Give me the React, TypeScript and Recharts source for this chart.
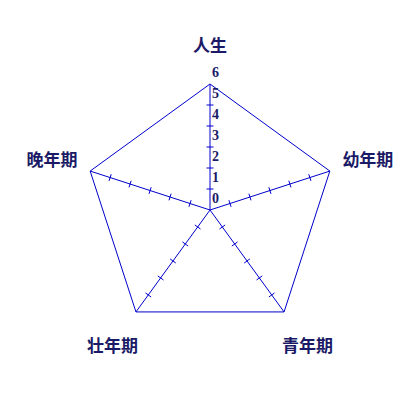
import React from "react";
import { RadarChart, Radar, PolarGrid, PolarAngleAxis, PolarRadiusAxis } from "recharts";

const categories = ["人生", "幼年期", "青年期", "壮年期", "晚年期"];
const values = [6, 6, 6, 6, 6];
const radiusTicks = [0, 1, 2, 3, 4, 5, 6];

const data = categories.map((name, i) => ({ name, value: values[i] }));

const LINE = "#0000cc";
const TEXT = "#1a1a66";
const ANGLES = categories.map((_, i) => 90 - (360 / categories.length) * i);

const AngleTick = (props: any) => {
  const { x, y, payload } = props;
  return (
    <text
      x={x}
      y={y}
      textAnchor="middle"
      dominantBaseline="central"
      fill={TEXT}
      fontFamily="'Noto Sans CJK SC', sans-serif"
      fontWeight="bold"
      fontSize={17}
    >
      {payload.value}
    </text>
  );
};

const RadiusTick = (props: any) => {
  const { x, y, payload } = props;
  const r = payload.coordinate;
  const cx = x;
  const cy = y + r;
  const v = payload.value;
  const showMark = v > 0 && v < 6;
  const h = 3.5;
  return (
    <g>
      {showMark &&
        ANGLES.map((a) => {
          const rad = (a * Math.PI) / 180;
          const px = cx + r * Math.cos(rad);
          const py = cy - r * Math.sin(rad);
          const nx = Math.sin(rad);
          const ny = Math.cos(rad);
          return (
            <line
              key={a}
              x1={px - nx * h}
              y1={py - ny * h}
              x2={px + nx * h}
              y2={py + ny * h}
              stroke={LINE}
              strokeWidth={1}
            />
          );
        })}
      <text
        x={x + 2}
        y={y - 7}
        textAnchor="start"
        fill={TEXT}
        fontFamily="'Liberation Serif', 'Times New Roman', serif"
        fontWeight="bold"
        fontSize={14}
      >
        {v}
      </text>
    </g>
  );
};

export default function App() {
  return (
    <RadarChart
      width={412}
      height={412}
      cx={202}
      cy={202}
      outerRadius={126}
      data={data}
      margin={{ top: 0, right: 0, bottom: 0, left: 0 }}
    >
      <PolarGrid gridType="polygon" polarRadius={[0]} stroke={LINE} strokeOpacity={1} />
      <PolarAngleAxis
        dataKey="name"
        tickLine={false}
        axisLine={false}
        tickSize={40}
        tick={<AngleTick />}
      />
      <PolarRadiusAxis
        angle={90}
        domain={[0, 6]}
        ticks={radiusTicks as any}
        tickCount={7}
        axisLine={false}
        tick={<RadiusTick />}
      />
      <Radar
        dataKey="value"
        stroke={LINE}
        strokeWidth={1}
        fill="none"
        fillOpacity={0}
        dot={false}
        isAnimationActive={false}
      />
    </RadarChart>
  );
}
